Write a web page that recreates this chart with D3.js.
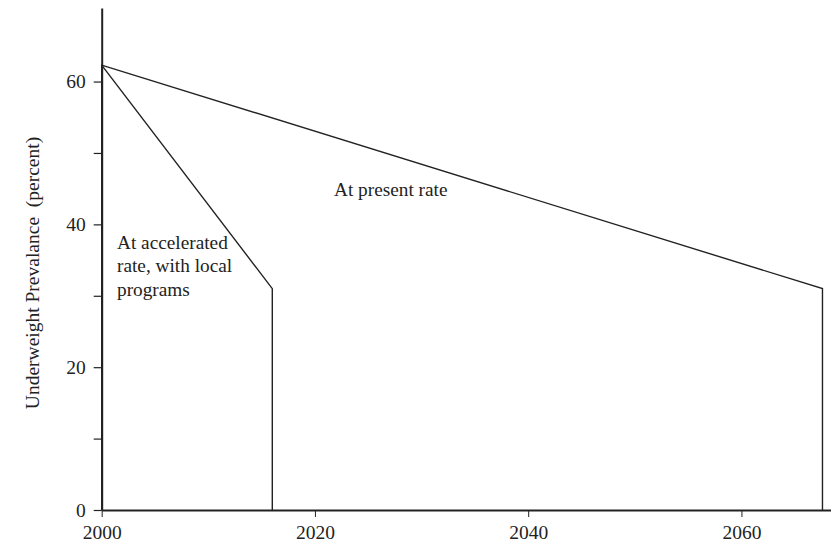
<!DOCTYPE html>
<html><head><meta charset="utf-8">
<script src="https://cdn.jsdelivr.net/npm/d3@7"></script>
<style>body{margin:0;background:#fff}svg{display:block}text{font-family:"Liberation Serif","Times New Roman",serif;fill:#222}</style>
</head><body><div id="c"></div>
<script>
const xTicks = [2000, 2020, 2040, 2060];
const yTicks = [0, 10, 20, 30, 40, 50, 60];
const yTickLabels = ["0", "", "20", "", "40", "", "60"];
const presentYears = [2000, 2000, 2067.6, 2067.6];
const presentValues = [0, 62.3, 31, 0];
const accelYears = [2000, 2016, 2016];
const accelValues = [62.3, 31, 0];
const presentLabel = ["At present rate"];
const accelLabel = ["At accelerated", "rate, with local", "programs"];
const yTitle = "Underweight Prevalance  (percent)";

const W = 831, H = 544;
const svg = d3.select("#c").append("svg").attr("width", W).attr("height", H);
const x = d3.scaleLinear().domain([2000, 2068.4]).range([101.7, 831]);
const y = d3.scaleLinear().domain([0, 70.3]).range([510, 8]);

// x axis
const xa = svg.append("g").attr("transform", `translate(0,${y(0)})`)
  .call(d3.axisBottom(x).tickValues(xTicks).tickFormat(d3.format("d")).tickSize(7).tickSizeOuter(0));
xa.select(".domain").attr("stroke", "#222").attr("stroke-width", 2.2);
xa.selectAll(".tick line").attr("stroke", "#222").attr("stroke-width", 1);
xa.selectAll("text").attr("font-size", 19.5).attr("dy", "0.98em").attr("fill", "#222");

// y axis
const ya = svg.append("g").attr("transform", `translate(${x(2000)},0)`)
  .call(d3.axisLeft(y).tickValues(yTicks).tickFormat((d, i) => yTickLabels[i]).tickSize(8).tickPadding(8).tickSizeOuter(0));
ya.select(".domain").attr("stroke", "#222").attr("stroke-width", 2);
ya.selectAll(".tick line").attr("stroke", "#222").attr("stroke-width", 1.2);
ya.selectAll("text").attr("font-size", 19.5).attr("fill", "#222");

const line = d3.line().x(d => x(d[0])).y(d => y(d[1]));
svg.append("path").datum(presentYears.map((v, i) => [v, presentValues[i]]))
  .attr("d", line).attr("fill", "none").attr("stroke", "#222").attr("stroke-width", 1.4);
svg.append("path").datum(accelYears.map((v, i) => [v, accelValues[i]]))
  .attr("d", line).attr("fill", "none").attr("stroke", "#222").attr("stroke-width", 1.4);

svg.append("text").attr("x", 334).attr("y", 196).attr("font-size", 19.3).text(presentLabel[0]);
const t = svg.append("text").attr("x", 117).attr("y", 248.5).attr("font-size", 19.3);
accelLabel.forEach((s, i) => t.append("tspan").attr("x", 117).attr("dy", i ? 23.5 : 0).text(s));

svg.append("text").attr("transform", `translate(39,273) rotate(-90)`)
  .attr("text-anchor", "middle").attr("font-size", 19.5).style("white-space", "pre").text(yTitle);
</script></body></html>
